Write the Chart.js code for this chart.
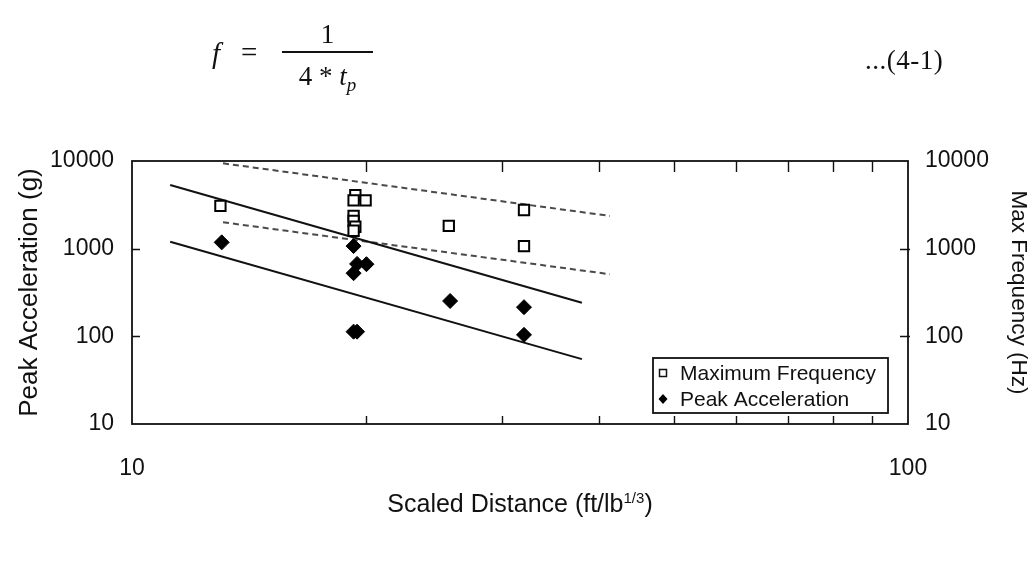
<!DOCTYPE html>
<html>
<head>
<meta charset="utf-8">
<script src="https://cdn.jsdelivr.net/npm/chart.js@4.4.0/dist/chart.umd.min.js"></script>
<style>
  body { margin: 0; background: #fff; }
  #wrap { position: relative; width: 1035px; height: 586px; overflow: hidden; }
  #chart { position: absolute; left: 0; top: 0; }
  .serif { position: absolute; font-family: "Liberation Serif", "DejaVu Serif", serif; color: #111; }
  .it { font-style: italic; }
  #xTitle { position: absolute; left: 0; width: 1040px; top: 489px; text-align: center;
            font-family: "Liberation Sans", Arial, sans-serif; font-size: 25px; color: #111; }
  #xTitle sup { font-size: 15px; vertical-align: 9px; }
</style>
</head>
<body>
<div id="wrap">
  <canvas id="chart" width="1035" height="586"></canvas>

  <!-- equation above the chart -->
  <div class="serif it" style="left:212px; top:37px; font-size:29px;">f</div>
  <div class="serif" style="left:241px; top:36px; font-size:29px;">=</div>
  <div class="serif" style="left:282px; top:51px; width:91px; height:0; border-top:2px solid #111;"></div>
  <div class="serif" style="left:282px; top:19px; width:91px; text-align:center; font-size:27px;">1</div>
  <div class="serif" style="left:282px; top:61px; width:91px; text-align:center; font-size:27px;">4 * <span class="it">t<sub style="font-size:19px;">p</sub></span></div>
  <div class="serif" style="left:865px; top:45px; font-size:27px; letter-spacing:0.5px;">...(4-1)</div>

  <div id="xTitle">Scaled Distance (ft/lb<sup>1/3</sup>)</div>
</div>

<script>
// scaled distance (ft/lb^1/3) and values
const freqDist = [13.0, 19.4, 19.3, 20.0, 19.3, 19.3, 19.4, 19.3, 25.6, 32.0, 32.0];
const maxFreq  = [3070, 4090, 3560, 3560, 2360, 2070, 1780, 1600, 1820, 2760, 1070];

const accDist  = [13.05, 19.3, 19.5, 20.05, 19.3, 19.3, 19.5, 25.7, 32.0, 32.0];
const peakAcc  = [1180, 1070, 670, 665, 525, 113, 113, 253, 215, 104];

// bounding lines (end points)
const accLineX    = [11.2, 38.0];
const accUpperY   = [5330, 242];
const accLowerY   = [1200, 55];
const freqLineX   = [13.1, 41.3];
const freqUpperY  = [9400, 2360];
const freqLowerY  = [2000, 511];

const xTickValues = [10, 20, 30, 40, 50, 60, 70, 80, 90, 100];
const yTickValues = [10, 100, 1000, 10000];

function pts(xs, ys) {
    return xs.map((x, i) => ({ x: x, y: ys[i] }));
}

const sansFont = '"Liberation Sans", Arial, sans-serif';

// inward tick marks, plot frame and boxed legend
const frameTicks = {
    id: 'frameTicks',
    afterDraw(chart) {
        const ctx = chart.ctx;
        const area = chart.chartArea;
        const xs = chart.scales.x;
        const ys = chart.scales.y;
        ctx.save();
        ctx.strokeStyle = '#111';
        ctx.lineWidth = 1.8;
        ctx.strokeRect(area.left, area.top, area.right - area.left, area.bottom - area.top);

        ctx.lineWidth = 1.4;
        ctx.beginPath();
        xTickValues.slice(1, -1).forEach(v => {
            const px = Math.round(xs.getPixelForValue(v)) + 0.5;
            ctx.moveTo(px, area.bottom);
            ctx.lineTo(px, area.bottom - 8);
            ctx.moveTo(px, area.top);
            ctx.lineTo(px, area.top + 11);
        });
        yTickValues.slice(1, -1).forEach(v => {
            const py = Math.round(ys.getPixelForValue(v)) + 0.5;
            ctx.moveTo(area.left, py);
            ctx.lineTo(area.left + 8, py);
            ctx.moveTo(area.right + 2, py);
            ctx.lineTo(area.right - 8, py);
        });
        ctx.stroke();

        // legend box
        const lx = 653, ly = 358, lw = 235, lh = 55;
        ctx.fillStyle = '#fff';
        ctx.fillRect(lx, ly, lw, lh);
        ctx.lineWidth = 1.8;
        ctx.strokeRect(lx, ly, lw, lh);
        const items = chart.data.datasets.filter(d => d.inLegend);
        items.forEach((d, i) => {
            const cy = ly + 15 + i * 26;
            const cx = lx + 10;
            ctx.lineWidth = 1.5;
            if (d.pointStyle === 'rect') {
                ctx.fillStyle = '#fff';
                ctx.fillRect(cx - 3.5, cy - 3.5, 7, 7);
                ctx.strokeRect(cx - 3.5, cy - 3.5, 7, 7);
            } else {
                ctx.fillStyle = '#000';
                ctx.beginPath();
                ctx.moveTo(cx, cy - 5);
                ctx.lineTo(cx + 4.5, cy);
                ctx.lineTo(cx, cy + 5);
                ctx.lineTo(cx - 4.5, cy);
                ctx.closePath();
                ctx.fill();
            }
            ctx.fillStyle = '#111';
            ctx.font = '21px ' + sansFont;
            ctx.textBaseline = 'middle';
            ctx.textAlign = 'left';
            ctx.fillText(d.label, lx + 27, cy + 1);
        });
        ctx.restore();
    }
};

new Chart(document.getElementById('chart'), {
    type: 'scatter',
    data: {
        datasets: [
            {
                label: 'Maximum Frequency',
                inLegend: true,
                data: pts(freqDist, maxFreq),
                yAxisID: 'y2',
                pointStyle: 'rect',
                pointRadius: 7.3,
                pointBackgroundColor: '#fff',
                pointBorderColor: '#000',
                pointBorderWidth: 2
            },
            {
                label: 'Peak Acceleration',
                inLegend: true,
                data: pts(accDist, peakAcc),
                yAxisID: 'y',
                pointStyle: 'rectRot',
                pointRadius: 7.5,
                pointBackgroundColor: '#000',
                pointBorderColor: '#000',
                pointBorderWidth: 1
            },
            {
                label: 'acc upper',
                type: 'line',
                data: pts(accLineX, accUpperY),
                yAxisID: 'y',
                borderColor: '#111',
                borderWidth: 2,
                pointRadius: 0
            },
            {
                label: 'acc lower',
                type: 'line',
                data: pts(accLineX, accLowerY),
                yAxisID: 'y',
                borderColor: '#111',
                borderWidth: 2,
                pointRadius: 0
            },
            {
                label: 'freq upper',
                type: 'line',
                data: pts(freqLineX, freqUpperY),
                yAxisID: 'y2',
                borderColor: '#4a4a4a',
                borderWidth: 2,
                borderDash: [6, 4],
                pointRadius: 0
            },
            {
                label: 'freq lower',
                type: 'line',
                data: pts(freqLineX, freqLowerY),
                yAxisID: 'y2',
                borderColor: '#4a4a4a',
                borderWidth: 2,
                borderDash: [6, 4],
                pointRadius: 0
            }
        ]
    },
    options: {
        responsive: false,
        animation: false,
        devicePixelRatio: 1,
        layout: { padding: { top: 161, left: 0, right: 0, bottom: 0 } },
        plugins: {
            legend: { display: false },
            tooltip: { enabled: false }
        },
        scales: {
            x: {
                type: 'logarithmic',
                min: 10,
                max: 100,
                afterBuildTicks: s => { s.ticks = xTickValues.map(v => ({ value: v })); },
                afterFit: s => { s.height = 162; },
                grid: { display: false, drawTicks: false },
                border: { display: false },
                ticks: {
                    autoSkip: false,
                    maxRotation: 0,
                    padding: 31,
                    color: '#111',
                    font: { family: sansFont, size: 23 },
                    callback: v => (v === 10 || v === 100) ? String(v) : ''
                }
            },
            y: {
                type: 'logarithmic',
                position: 'left',
                min: 10,
                max: 10000,
                afterBuildTicks: s => { s.ticks = yTickValues.map(v => ({ value: v })); },
                afterFit: s => { s.width = 132; },
                grid: { display: false, drawTicks: false },
                border: { display: false },
                ticks: {
                    padding: 18,
                    color: '#111',
                    font: { family: sansFont, size: 23 },
                    callback: v => String(v)
                },
                title: {
                    display: true,
                    text: 'Peak Acceleration (g)',
                    color: '#111',
                    font: { family: sansFont, size: 26 },
                    padding: { top: 14, bottom: 0 }
                }
            },
            y2: {
                type: 'logarithmic',
                position: 'right',
                min: 10,
                max: 10000,
                afterBuildTicks: s => { s.ticks = yTickValues.map(v => ({ value: v })); },
                afterFit: s => { s.width = 127; },
                grid: { display: false, drawTicks: false },
                border: { display: false },
                ticks: {
                    padding: 17,
                    color: '#111',
                    font: { family: sansFont, size: 23 },
                    callback: v => String(v)
                },
                title: {
                    display: true,
                    text: 'Max Frequency (Hz)',
                    color: '#111',
                    font: { family: sansFont, size: 22.5 },
                    padding: { top: 3, bottom: 0 }
                }
            }
        }
    },
    plugins: [frameTicks]
});
</script>
</body>
</html>
